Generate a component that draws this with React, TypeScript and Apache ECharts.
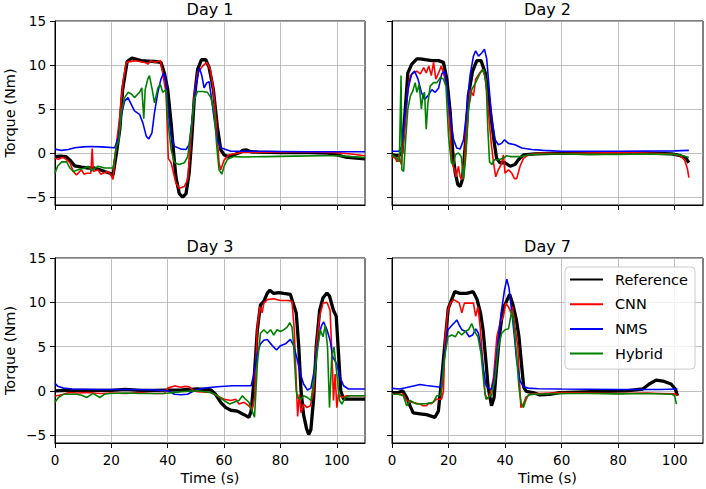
import React, { useEffect, useRef } from "react";
import * as echarts from "echarts";

type Pt = [number, number];

const panelTitles = ["Day 1", "Day 2", "Day 3", "Day 7"];
const methodNames = ["Reference", "CNN", "NMS", "Hybrid"];
const methodColors = ["#000000", "#ff0000", "#0000ff", "#008000"];
const xTicks = [0, 20, 40, 60, 80, 100];
const yTicks = [-5, 0, 5, 10, 15];
const xRange = [0, 110];
const yRange = [-5.9, 15];

// ---------------- Day 1 ----------------
const day1Reference: Pt[] = [[0,-0.4],[2,-0.35],[4,-0.4],[5.3,-0.8],[7,-1.45],[9.4,-1.6],[12,-1.7],[14,-1.7],[16,-1.9],[17.6,-2.1],[19.5,-2.3],[20.6,-2.5],[21.8,0],[23,2.7],[24,7.2],[25.6,10.4],[27.3,10.8],[30.6,10.5],[33,10.45],[35.3,10.4],[37.6,10.3],[38.8,9.1],[40,7.2],[41.2,3.4],[42.1,0],[42.9,-2.7],[44.1,-4.6],[45.3,-5],[46.5,-4.6],[47.6,-2.3],[48.5,1.5],[49.4,6.1],[50.6,9.5],[52,10.6],[53.5,10.6],[54.7,9.7],[56.2,7.2],[57.6,3],[58.8,0.4],[60,-0.2],[61.2,-0.4],[63.5,-0.2],[65.9,0.1],[66.5,0.3],[68,0.35],[69.5,0.15],[72,0.1],[80,0.05],[90,0.05],[97,0],[100,-0.2],[103,-0.45],[106,-0.55],[110,-0.65]];
const day1Cnn: Pt[] = [[0,-0.6],[1.2,-0.7],[2.5,-0.5],[3.5,-0.6],[5.3,-1.1],[6.5,-2.1],[7.6,-2.5],[8.5,-2.2],[9.4,-1.9],[10.3,-2.4],[11.2,-2.3],[12.7,-2.3],[13.2,0.5],[13.6,-2.1],[15.3,-1.9],[16.2,-2.4],[17,-2.3],[18.8,-2.1],[19.8,-2.5],[20.6,-3.0],[21.4,0],[23,4.2],[24.1,8],[25.3,10.3],[28.2,10.5],[30,10.4],[31.8,10.3],[33,10.1],[34,10.5],[35.3,10.3],[36.5,10.4],[37.4,10.5],[38.2,9.1],[39.4,6.9],[40.2,-0.6],[41.2,-1.1],[42.9,-3.4],[44.1,-4],[45.9,-3.8],[47.1,-3],[48.2,1.5],[49.4,6.5],[50.6,9.1],[52.4,9.9],[53.9,10.3],[55.1,9.5],[56.2,7.2],[57.4,2.7],[58.2,-1.1],[58.8,-1.9],[60,-0.8],[61.8,-0.2],[67,0.1],[75,0.1],[85,0.15],[95,0.1],[100,0.05],[105,-0.1],[110,-0.3]];
const day1Nms: Pt[] = [[0,0.45],[2.4,0.3],[4.7,0.4],[7,0.6],[10,0.7],[12.4,0.75],[16.5,0.7],[21.2,0.6],[22.6,1.9],[23.5,4.2],[24.7,5.9],[25.9,6.3],[27.1,5.5],[28.2,4.8],[30,4.4],[31.2,3.4],[32.4,1.9],[33.3,1.6],[34.4,2.3],[35.3,4.6],[36.5,6.9],[37.6,8.4],[38.6,9.1],[39.4,8],[40.2,4.6],[41.2,1.9],[42.4,0.76],[44.7,0.45],[46.5,0.4],[47.6,0.95],[48.8,4.2],[50,7.6],[51.2,9.7],[52.1,8.8],[52.9,7.4],[53.9,8],[54.7,8.1],[55.5,6.3],[56.5,3.8],[57.6,1.5],[58.8,0.6],[60.6,0.4],[62.4,0.2],[70,0.2],[90,0.15],[110,0.15]];
const day1Hybrid: Pt[] = [[0,-2.3],[0.9,-1.5],[2.4,-1],[4.1,-1],[5.3,-1.7],[6.5,-2.1],[8.2,-1.9],[10.6,-1.7],[11.8,-1.5],[12.9,-2],[15.3,-1.5],[17.6,-1.7],[20.6,-1.7],[21.8,0.76],[22.7,1.5],[23.5,4.6],[24.7,6.3],[25.9,6.9],[27.1,6.7],[28.2,6.3],[30,6.9],[30.8,7.4],[31.5,3.9],[32,7.2],[32.9,8.4],[33.5,8.8],[34.5,7.2],[35.3,5.7],[36.5,7.4],[37.4,7.8],[38.2,6.9],[39.4,7.2],[40,3.8],[41.2,0.4],[42.4,-1.1],[44.1,-1.3],[45.9,-1.1],[47.1,-0.4],[48.2,2.3],[49.4,6.1],[50.6,7],[52.4,7],[54.1,6.9],[55.3,6.3],[56.5,4.6],[57.4,0.76],[58.2,-1.9],[59.2,-2.4],[60,-1.5],[61.2,-0.7],[63.5,-0.4],[67,-0.45],[75,-0.4],[85,-0.35],[95,-0.3],[100,-0.3],[105,-0.4],[110,-0.5]];

// ---------------- Day 2 ----------------
const day2Reference: Pt[] = [[0,-0.2],[2.4,-0.3],[3.5,0],[4.7,5],[5.6,9.1],[7,10.1],[8.8,10.7],[10,10.7],[11.8,10.6],[14.1,10.5],[16.5,10.5],[18.2,10.3],[19.4,8.4],[20.6,4.6],[21.5,0],[22.4,-2.3],[23.3,-3.6],[24.1,-3.8],[24.9,-3],[25.9,0.76],[27,6.5],[28.5,9.3],[30,10.5],[31.5,10.5],[33,9.1],[34.1,6.5],[35.3,3.4],[36.2,1.1],[37,-0.6],[38.2,-1.1],[40,-1.1],[41.8,-1.5],[43.5,-1.3],[44.7,-0.76],[46.5,-0.2],[50.6,-0.1],[60,0],[70,-0.05],[80,0],[90,0],[99,-0.1],[102,-0.3],[104,-0.6],[105,-1.1]];
const day2Cnn: Pt[] = [[0,-0.4],[1.2,-0.6],[1.8,-1],[2.4,-0.2],[3.3,-1.3],[4.1,1.5],[4.9,4.2],[5.6,7.2],[6.5,8.8],[7.6,9.1],[8.8,9.3],[10,9],[11.2,9.7],[12.1,9.1],[13,9.9],[13.9,8.8],[14.7,10.3],[15.5,8.4],[16.5,9.1],[17.4,9.9],[18.2,9.1],[19.4,7.6],[20.4,3.4],[21.2,-1.1],[22.1,-1.9],[22.7,-2.7],[23.5,-1.5],[24.1,-2.7],[24.7,-3],[25.6,-1.1],[26.5,3.8],[27.6,7.2],[28.8,6.5],[29.6,8.4],[30.8,9],[32,9.5],[33.2,8.4],[34.1,4.6],[35.1,1.1],[35.9,-1.1],[36.7,-2.7],[37.6,-1.9],[38.6,-1.3],[39.4,-0.2],[40,-2.3],[41.2,-1.9],[42.4,-2.3],[43.3,-2.9],[44.1,-2.9],[45.3,-1.5],[46.5,-0.6],[48.2,-0.2],[52.9,0],[60,-0.05],[70,0],[80,0.05],[90,0],[99,-0.1],[102,-0.3],[103.5,-0.8],[104.5,-1.8],[105,-2.8]];
const day2Nms: Pt[] = [[0,0.2],[2.4,0.2],[3.5,0.76],[4.7,4.6],[5.9,7.6],[7,9],[8,9.3],[9.2,8.4],[10.4,6.9],[11.5,6.1],[12.7,6.5],[14.1,7.2],[15.3,6.9],[16.5,7.4],[17.6,9],[18.6,9.3],[19.4,7.6],[20.6,4.2],[21.8,1.5],[22.9,0.57],[24.1,0.46],[25.3,1.5],[26.5,5],[27.6,8.8],[28.8,11],[29.6,11.6],[30.6,11],[31.8,11.4],[32.7,11.8],[33.5,10.7],[34.4,7.2],[35.3,3.8],[36.5,1.5],[37.6,0.95],[38.8,1.1],[39.8,1.5],[41.2,1.1],[43.5,0.95],[45.9,0.57],[49.4,0.4],[53.5,0.3],[60,0.2],[80,0.2],[100,0.25],[105,0.3]];
const day2Hybrid: Pt[] = [[0,-0.2],[1.8,-0.6],[2.6,-1],[3.2,8.8],[3.5,-1.9],[4.1,-2.1],[4.9,1.9],[5.6,5],[6.5,6.5],[7.3,7],[8.2,8],[8.8,6.9],[9.6,7.8],[10.4,5],[10.9,6.5],[11.5,6.9],[12.1,2.7],[12.7,5.7],[13.5,7.6],[14.7,8],[15.9,8],[17.1,8.6],[18.2,8.4],[19.1,7.6],[20,1.9],[21,-1.1],[21.8,-1.3],[22.4,-0.2],[23.5,0],[24.5,-0.4],[25.3,-3],[26.1,-0.4],[27.1,5],[28.2,7.2],[29.6,8],[31.2,9.1],[32.4,9.5],[33.3,8],[33.9,2.7],[34.5,-1],[35.3,-1.3],[36.2,-0.76],[37.6,-0.76],[39.4,-0.6],[40.6,-0.3],[41.8,-0.4],[45.9,-0.4],[48.2,-0.2],[52.9,-0.1],[60,-0.1],[70,-0.15],[80,-0.15],[90,-0.1],[100,-0.15],[103,-0.3],[105,-0.5]];

// ---------------- Day 3 ----------------
const day3Reference: Pt[] = [[0,0],[5,0.05],[10,0.05],[15,0.05],[20,0.05],[25,0.15],[30,0.05],[35,0.05],[38.8,0.08],[45,0.1],[50.6,0.2],[55.3,0.1],[57,-0.4],[58.8,-1.3],[60.6,-1.9],[62.4,-2.2],[64.7,-2.3],[67.1,-2.7],[68.8,-3],[69.6,-2.3],[70.6,1.1],[71.8,6.9],[72.9,9.7],[74.1,10.1],[75.3,11],[76.2,11.35],[77.6,11],[79.4,11.1],[81.2,11],[83.5,10.9],[84.7,9.7],[85.6,8.8],[86.5,4.95],[87.3,0],[88.2,-2.7],[89.2,-4.2],[90,-4.95],[90.8,-4.4],[91.8,-0.76],[92.7,5],[93.9,9.1],[95.1,10.5],[96.5,11.05],[97.4,10.7],[98.8,9.1],[99.8,8.4],[100.6,4.2],[101.4,0],[102.4,-0.95],[104.7,-0.95],[110,-0.95]];
const day3Cnn: Pt[] = [[0,-0.6],[1.5,-0.5],[3,-0.4],[5,-0.2],[8,-0.25],[12,-0.2],[16,-0.3],[20,-0.25],[25,-0.3],[30,-0.2],[35,-0.3],[38.8,-0.3],[40,0.3],[42.4,0.55],[44.7,0.4],[46,0.5],[47.6,0.45],[49.4,0],[50.6,-0.1],[55.3,-0.2],[57.6,-0.6],[60,-0.95],[62.4,-1.1],[64.1,-0.95],[65.3,-1.5],[67.1,-1.3],[68.8,-1.7],[70,-2.1],[70.8,-0.76],[71.8,7.2],[72.7,9.5],[73.5,8.8],[74.1,9.9],[75.3,10.3],[77.6,10.4],[80,10.2],[82.9,10.2],[84.1,10.1],[84.9,6.9],[85.6,1.1],[86.1,-2.9],[86.7,-0.4],[87.3,-2.5],[88.2,-1.5],[89.4,-1.9],[90.6,-1.7],[91.8,0],[92.7,4.95],[93.9,8.4],[95.1,9.9],[96.5,10],[97.6,9.1],[98.4,3],[98.8,-1.1],[99.4,1.9],[100,-1.9],[100.6,-0.4],[101.8,-0.76],[103.5,-0.57],[110,-0.57]];
const day3Nms: Pt[] = [[0,0.85],[1,0.5],[3,0.3],[6,0.2],[15,0.15],[25,0.15],[35,0.1],[40,0],[42.4,-0.4],[44.7,-0.45],[47,-0.4],[49.4,0],[52.9,0.3],[57.6,0.45],[63,0.57],[69.6,0.57],[70.6,1.9],[71.8,4.2],[72.9,5.3],[74.1,5.7],[75.3,5.8],[77.1,5.1],[78.6,4.6],[80,5.1],[81.8,5.3],[83.5,5.8],[84.7,5.1],[85.9,3.6],[87.1,1.9],[88.2,0.76],[89.6,0.08],[90.8,0.3],[92,2.3],[93.2,5.3],[94.4,7.2],[95.3,7.8],[96.5,6.9],[97.6,5.7],[98.6,3.8],[100,3],[101.2,1.5],[102.4,0.57],[104.1,0.2],[110,0.2]];
const day3Hybrid: Pt[] = [[0,-1.3],[1.2,-0.76],[3,-0.4],[7.6,-0.4],[9.5,-0.5],[11.2,-0.76],[13.5,-0.3],[15.9,-0.76],[17.5,-0.4],[19.4,-0.3],[25,-0.25],[30,-0.3],[38.8,-0.3],[45,-0.1],[50.6,0],[55.3,-0.2],[57.6,-0.57],[60,-1.1],[62,-1.5],[64.1,-1.2],[65.3,-1.1],[66.5,-0.57],[67.6,-0.95],[68.8,-1.3],[70,-2.3],[70.8,-3],[71.8,3],[72.9,6.5],[74.1,6.9],[75.3,6.5],[76.5,6.9],[77.6,6.3],[78.8,6.9],[80,6.7],[81.2,6.9],[82.4,7.2],[83.3,7.7],[84.1,7.2],[84.7,5],[85.6,0],[86.1,-0.76],[87.3,-0.95],[88.2,-0.57],[89.6,-0.76],[90.8,-1.1],[92,1.5],[93,4.2],[94.1,6.9],[95.1,6.1],[95.9,7.4],[96.7,4.95],[97.4,-1.9],[98.2,3.8],[99,4.95],[100,1.9],[101,-1.1],[101.8,-1.5],[103,-0.76],[104.7,-0.57],[110,-0.57]];

// ---------------- Day 7 ----------------
const day7Reference: Pt[] = [[0,-0.2],[2.2,-0.2],[3.8,0],[5.2,-0.76],[6.4,-1.7],[7.5,-2.5],[9.9,-2.6],[12.2,-2.7],[15.2,-3],[16.4,-2.3],[17.5,1.1],[18.7,5.3],[19.9,9.3],[21.1,10.3],[22.2,11.2],[24,11],[26.4,11],[28.7,11.2],[30.1,10.3],[31.3,8.8],[32.2,6.9],[33.2,3.4],[34,0.4],[35.2,-1.7],[36.1,-0.76],[36.9,2.3],[38.1,6.5],[39.3,9.3],[40.5,10.1],[41.6,10.9],[42.8,9.7],[44,8],[44.9,6.1],[45.8,3],[46.6,0.4],[47.5,-0.08],[49.9,-0.2],[52.2,-0.46],[55.8,-0.4],[59.3,-0.2],[71,-0.1],[82.8,0],[88.7,0.2],[91,0.76],[93.4,1.2],[95.8,1.1],[98.7,0.76],[100.2,0.2],[101,-0.57]];
const day7Cnn: Pt[] = [[0,-0.4],[4,-0.4],[5.2,-1.1],[6.9,-1.3],[9.9,-1.5],[11,-1.7],[12.2,-1.7],[13,-1.4],[14,-1.45],[15.8,-0.95],[17,-0.95],[17.6,-0.9],[18.2,0],[18.8,6.1],[19.8,9.1],[20.6,9.9],[21.8,10.3],[22.9,10.1],[23.8,9.9],[24.7,8.8],[25.6,9.9],[27.1,9.9],[28.8,9.9],[29.6,8.4],[30.4,9.5],[31.2,7.2],[32,3.8],[32.9,-0.4],[33.8,-0.95],[34.7,-0.4],[35.9,1.5],[37.1,6.1],[38.2,7.6],[39.4,8.4],[40.2,9.9],[41.2,9.5],[42.1,8.8],[42.6,9.5],[43.5,7.2],[44.5,5],[45.1,1.1],[45.6,-1.9],[46.5,-1.5],[47.3,-0.76],[48.8,-0.4],[51.8,-0.3],[60,-0.2],[70,-0.25],[80,-0.3],[90,-0.25],[95,-0.3],[100,-0.35],[101,-0.5]];
const day7Nms: Pt[] = [[0,0.27],[2.8,0.2],[6.4,0.46],[9.9,0.7],[12.2,0.6],[15.8,0.46],[17,0.4],[17.6,1.1],[18.6,4.2],[19.8,6.9],[21.2,7.4],[22.4,7.8],[22.9,8],[23.8,7.4],[24.7,6.9],[26.1,6.7],[27.3,6.1],[28.5,6.3],[29.6,7],[30.6,6.5],[31.5,4.6],[32.4,2.3],[33.3,0.57],[34.5,0.2],[35.3,0.2],[36.2,1.5],[37.4,5.3],[38.6,8.8],[39.8,11.4],[40.6,12.6],[41.4,11.6],[42.4,8.8],[43.3,6.1],[44.1,3.4],[45.3,1.1],[46.5,0.46],[48.2,0.3],[51.8,0.23],[60,0.2],[80,0.15],[95,0.15],[101,0.2]];
const day7Hybrid: Pt[] = [[0,-0.4],[2.2,-0.4],[4,-0.57],[5.2,-1.7],[6.4,-1.1],[8.7,-1.5],[12.2,-1.45],[14.6,-1.3],[15.8,-0.57],[17,-0.57],[17.4,-0.2],[18.6,3.8],[19.8,6.1],[21.2,6.3],[22.4,6.1],[23.5,6.7],[24.7,6.3],[25.9,6.7],[27.1,6.9],[28.2,7.6],[29.2,6.7],[30.4,6.1],[31.5,4.2],[32.4,1.1],[33.2,-0.95],[34.1,-0.76],[35.3,-0.4],[36.5,1.5],[37.6,5],[38.8,6.5],[40,6.9],[41.2,7],[42.4,9.1],[43.3,6.9],[44.1,3.8],[44.9,0.4],[45.6,-1.3],[46.5,-1.9],[47.3,-1.1],[48.2,-0.46],[50.6,-0.4],[60,-0.3],[70,-0.3],[80,-0.35],[90,-0.3],[99,-0.4],[100,-0.57],[100.6,-1.5]];

const panelData: Pt[][][] = [
  [day1Reference, day1Cnn, day1Nms, day1Hybrid],
  [day2Reference, day2Cnn, day2Nms, day2Hybrid],
  [day3Reference, day3Cnn, day3Nms, day3Hybrid],
  [day7Reference, day7Cnn, day7Nms, day7Hybrid],
];

const FONT = "DejaVu Sans";

function fmtTick(v: number): string {
  return v < 0 ? "\u2212" + Math.abs(v) : String(v);
}

export default function App() {
  const ref = useRef<HTMLDivElement>(null);

  useEffect(() => {
    if (!ref.current) return;
    const chart = echarts.init(ref.current, null, { renderer: "svg" });

    const boxes = [
      { left: 55, top: 21, width: 310, height: 184 },
      { left: 392, top: 21, width: 311, height: 184 },
      { left: 55, top: 258, width: 310, height: 185 },
      { left: 392, top: 258, width: 311, height: 185 },
    ];

    const grid = boxes.map((b) => ({
      left: b.left,
      top: b.top,
      width: b.width,
      height: b.height,
      show: true,
      borderColor: "#000",
      borderWidth: 1,
      backgroundColor: "transparent",
      containLabel: false,
    }));

    const xAxis = boxes.map((b, i) => {
      const bottomRow = i >= 2;
      return {
        gridIndex: i,
        type: "value",
        min: xRange[0],
        max: xRange[1],
        name: bottomRow ? "Time (s)" : "",
        nameLocation: "middle",
        nameGap: 27,
        nameTextStyle: { fontSize: 14.5, color: "#000", fontFamily: FONT },
        axisLine: { show: true, onZero: false, lineStyle: { color: "#000", width: 1 } },
        axisTick: { show: true, inside: false, length: 5, customValues: xTicks, lineStyle: { color: "#000", width: 1 } },
        axisLabel: {
          show: bottomRow,
          customValues: xTicks,
          margin: 10,
          fontSize: 13.5,
          color: "#000",
          fontFamily: FONT,
          formatter: fmtTick,
        },
        splitLine: { show: true, lineStyle: { color: "#b0b0b0", width: 0.8 } },
      };
    });

    const yAxis = boxes.map((b, i) => {
      const leftCol = i % 2 === 0;
      return {
        gridIndex: i,
        type: "value",
        min: yRange[0],
        max: yRange[1],
        name: leftCol ? "Torque (Nm)" : "",
        nameLocation: "middle",
        nameGap: 38,
        nameTextStyle: { fontSize: 14.5, color: "#000", fontFamily: FONT },
        axisLine: { show: true, onZero: false, lineStyle: { color: "#000", width: 1 } },
        axisTick: { show: true, inside: false, length: 5, customValues: yTicks, lineStyle: { color: "#000", width: 1 } },
        axisLabel: {
          show: leftCol,
          customValues: yTicks,
          margin: 9,
          fontSize: 13.5,
          color: "#000",
          fontFamily: FONT,
          formatter: fmtTick,
        },
        splitLine: { show: true, lineStyle: { color: "#b0b0b0", width: 0.8 } },
      };
    });

    const series: any[] = [];
    panelData.forEach((panel, i) => {
      panel.forEach((data, k) => {
        series.push({
          type: "line",
          name: methodNames[k],
          xAxisIndex: i,
          yAxisIndex: i,
          data,
          showSymbol: false,
          symbol: "none",
          clip: true,
          lineStyle: { color: methodColors[k], width: k === 0 ? 3.3 : 1.6 },
          itemStyle: { color: methodColors[k] },
          z: 2 + k,
        });
      });
    });

    const title = boxes.map((b, i) => ({
      text: panelTitles[i],
      left: b.left + b.width / 2,
      top: i < 2 ? 1 : 238,
      textAlign: "center",
      padding: 0,
      textStyle: { fontSize: 16, fontWeight: "normal", color: "#000", fontFamily: FONT },
    }));

    chart.setOption({
      animation: false,
      backgroundColor: "#fff",
      title,
      grid,
      xAxis,
      yAxis,
      legend: {
        data: methodNames,
        orient: "vertical",
        left: 565,
        top: 267,
        itemWidth: 33,
        itemHeight: 14,
        itemGap: 9.7,
        padding: [5, 7, 8, 4],
        backgroundColor: "rgba(255,255,255,0.8)",
        borderColor: "#cccccc",
        borderWidth: 1,
        borderRadius: 4,
        selectedMode: false,
        itemStyle: { opacity: 0 },
        textStyle: { fontSize: 14.5, color: "#000", fontFamily: FONT, lineHeight: 14, padding: [0, 0, 0, 7] },
      },
      series,
    });

    return () => chart.dispose();
  }, []);

  return (
    <div
      ref={ref}
      style={{ position: "absolute", left: 0, top: 0, width: 706, height: 489 }}
    />
  );
}
